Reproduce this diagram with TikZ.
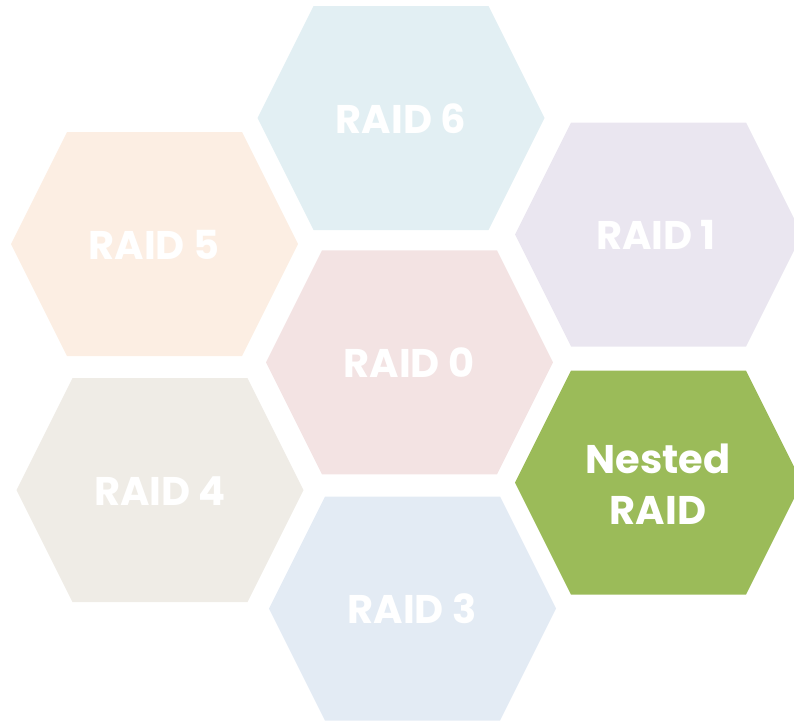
\documentclass[tikz,border=0pt]{standalone}
\usepackage{fontspec}
\setmainfont{Poppins}
\definecolor{cSix}{HTML}{E2EFF3}
\definecolor{cOne}{HTML}{EAE6F0}
\definecolor{cFive}{HTML}{FCEEE3}
\definecolor{cZero}{HTML}{F3E3E3}
\definecolor{cFour}{HTML}{EFECE6}
\definecolor{cThree}{HTML}{E3EBF4}
\definecolor{cNest}{HTML}{9BBB59}
\tikzset{
  hexlabel/.style={text=white, font=\fontsize{40}{51}\selectfont\bfseries, align=center, inner sep=0pt},
}
\newcommand{\hexat}[3]{%
  \fill[#3] (#1-143.5,#2) -- (#1-87.5,#2-112) -- (#1+87.5,#2-112) -- (#1+143.5,#2) -- (#1+87.5,#2+112) -- (#1-87.5,#2+112) -- cycle;}
\begin{document}
\begin{tikzpicture}[x=1pt,y=-1pt]
\useasboundingbox (0,0) rectangle (794,721);
\hexat{401}{118}{cSix}
\hexat{658.5}{234.5}{cOne}
\hexat{154.5}{244}{cFive}
\hexat{409.5}{362.3}{cZero}
\hexat{160}{490}{cFour}
\hexat{658.5}{482.7}{cNest}
\hexat{412.5}{608.5}{cThree}
\node[hexlabel] (r6) at (401,119) {RAID 6};
\node[hexlabel] (r1) at (656,235) {RAID 1};
\node[hexlabel] (r5) at (154,245) {RAID 5};
\node[hexlabel] (r0) at (409,363) {RAID 0};
\node[hexlabel] (r4) at (160,491) {RAID 4};
\node[hexlabel] (nr) at (658,484) {Nested\\RAID};
\node[hexlabel] (r3) at (412,609) {RAID 3};
\end{tikzpicture}
\end{document}
